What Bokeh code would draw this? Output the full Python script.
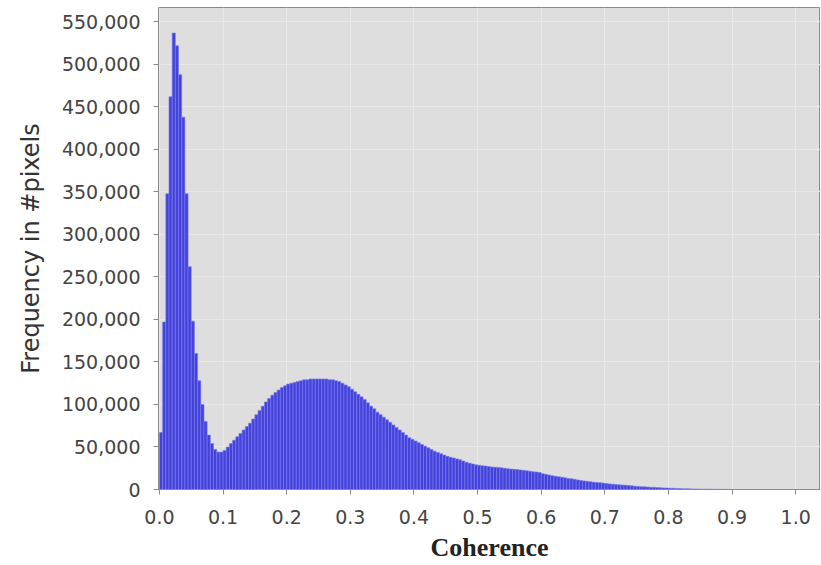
from bokeh.plotting import figure
from bokeh.models import Range1d, FixedTicker, NumeralTickFormatter, ColumnDataSource
from bokeh.embed import file_html
from bokeh.resources import INLINE

# Histogram data: bins of width 0.005 starting at 0.0
bin_start = 0.0
bin_width = 0.005
frequency = [
    67000, 197000, 348000, 462000, 537000, 522000, 488000, 438000, 348000, 262000,
    198000, 160000, 128000, 100000, 80000, 64000, 54000, 47000, 44000, 44000,
    46000, 50000, 54000, 58000, 62000, 66000, 70000, 74000, 78000, 83000,
    88000, 93000, 98000, 103000, 107000, 111000, 114000, 117000, 120000, 122000,
    124000, 125000, 126000, 127000, 128000, 129000, 129000, 130000, 130000, 130000,
    130000, 130000, 130000, 129000, 129000, 128000, 127000, 125000, 123000, 121000,
    118000, 115000, 112000, 109000, 106000, 102000, 98000, 95000, 91000, 88000,
    85000, 82000, 79000, 76000, 73000, 70000, 67000, 64000, 61000, 59000,
    57000, 55000, 53000, 51000, 49000, 47000, 45000, 43500, 42000, 40500,
    39000, 38000, 37000, 36000, 35000, 33500, 32000, 31000, 30000, 29000,
    28500, 28000, 27500, 27000, 26500, 26200, 26000, 25500, 25000, 24500,
    24000, 23700, 23500, 23000, 22500, 22000, 21500, 21000, 20500, 20000,
    18500, 17800, 17000, 16200, 15500, 15000, 14500, 13700, 13000, 12500,
    12000, 11300, 10600, 10100, 9600, 9100, 8600, 8300, 8000, 7500,
    7000, 6600, 6300, 5900, 5600, 5300, 5000, 4600, 4300, 3900,
    3600, 3300, 3100, 2900, 2700, 2500, 2300, 2100, 1900, 1700,
    1600, 1450, 1300, 1150, 1000, 900, 800, 700, 600, 520,
    450, 390, 330, 280, 240, 200, 170, 140, 110, 90,
]
x_ticks = [0.0, 0.1, 0.2, 0.3, 0.4, 0.5, 0.6, 0.7, 0.8, 0.9, 1.0]
y_ticks = [0, 50000, 100000, 150000, 200000, 250000, 300000, 350000,
           400000, 450000, 500000, 550000]

centers = [bin_start + bin_width * (i + 0.5) for i in range(len(frequency))]
src = ColumnDataSource(data=dict(x=centers, top=frequency))

p = figure(width=820, height=564, output_backend="svg", toolbar_location=None,
           x_range=Range1d(-0.0015, 1.039), y_range=Range1d(0, 567000),
           min_border_left=158, min_border_right=0, min_border_top=7,
           min_border_bottom=74)

p.background_fill_color = "#dedede"
p.border_fill_color = "white"
p.outline_line_color = "#8a8a8a"
p.outline_line_width = 1

p.vbar(x="x", top="top", width=bin_width, bottom=0, source=src,
       fill_color="#4343dc", line_color="#7a7aee", line_width=0.6)

for g in (p.xgrid[0], p.ygrid[0]):
    g.grid_line_color = "#e9e9e9"
    g.grid_line_width = 1
p.xgrid.ticker = FixedTicker(ticks=x_ticks)
p.ygrid.ticker = FixedTicker(ticks=y_ticks)

p.xaxis.ticker = FixedTicker(ticks=x_ticks)
p.yaxis.ticker = FixedTicker(ticks=y_ticks)
p.xaxis.formatter = NumeralTickFormatter(format="0.0")
p.yaxis.formatter = NumeralTickFormatter(format="0,0")

for ax in (p.xaxis[0], p.yaxis[0]):
    ax.axis_line_color = "#8a8a8a"
    ax.major_tick_line_color = "#8a8a8a"
    ax.minor_tick_line_color = None
    ax.major_tick_out = 5
    ax.major_tick_in = 0
    ax.major_label_text_font = "DejaVu Sans"
    ax.major_label_text_font_size = "19px"
    ax.major_label_text_color = "#444444"

p.yaxis.major_label_standoff = 13
p.xaxis.major_label_standoff = 15

p.xaxis.axis_label = "Coherence"
p.xaxis.axis_label_text_font = "Liberation Serif"
p.xaxis.axis_label_text_font_style = "bold"
p.xaxis.axis_label_text_font_size = "26px"
p.xaxis.axis_label_text_color = "#222222"
p.xaxis.axis_label_standoff = 6

p.yaxis.axis_label = "Frequency in #pixels"
p.yaxis.axis_label_text_font = "DejaVu Sans"
p.yaxis.axis_label_text_font_style = "normal"
p.yaxis.axis_label_text_font_size = "24px"
p.yaxis.axis_label_text_color = "#333333"
p.yaxis.axis_label_standoff = 14

open("out.html", "w").write(file_html(p, INLINE))
